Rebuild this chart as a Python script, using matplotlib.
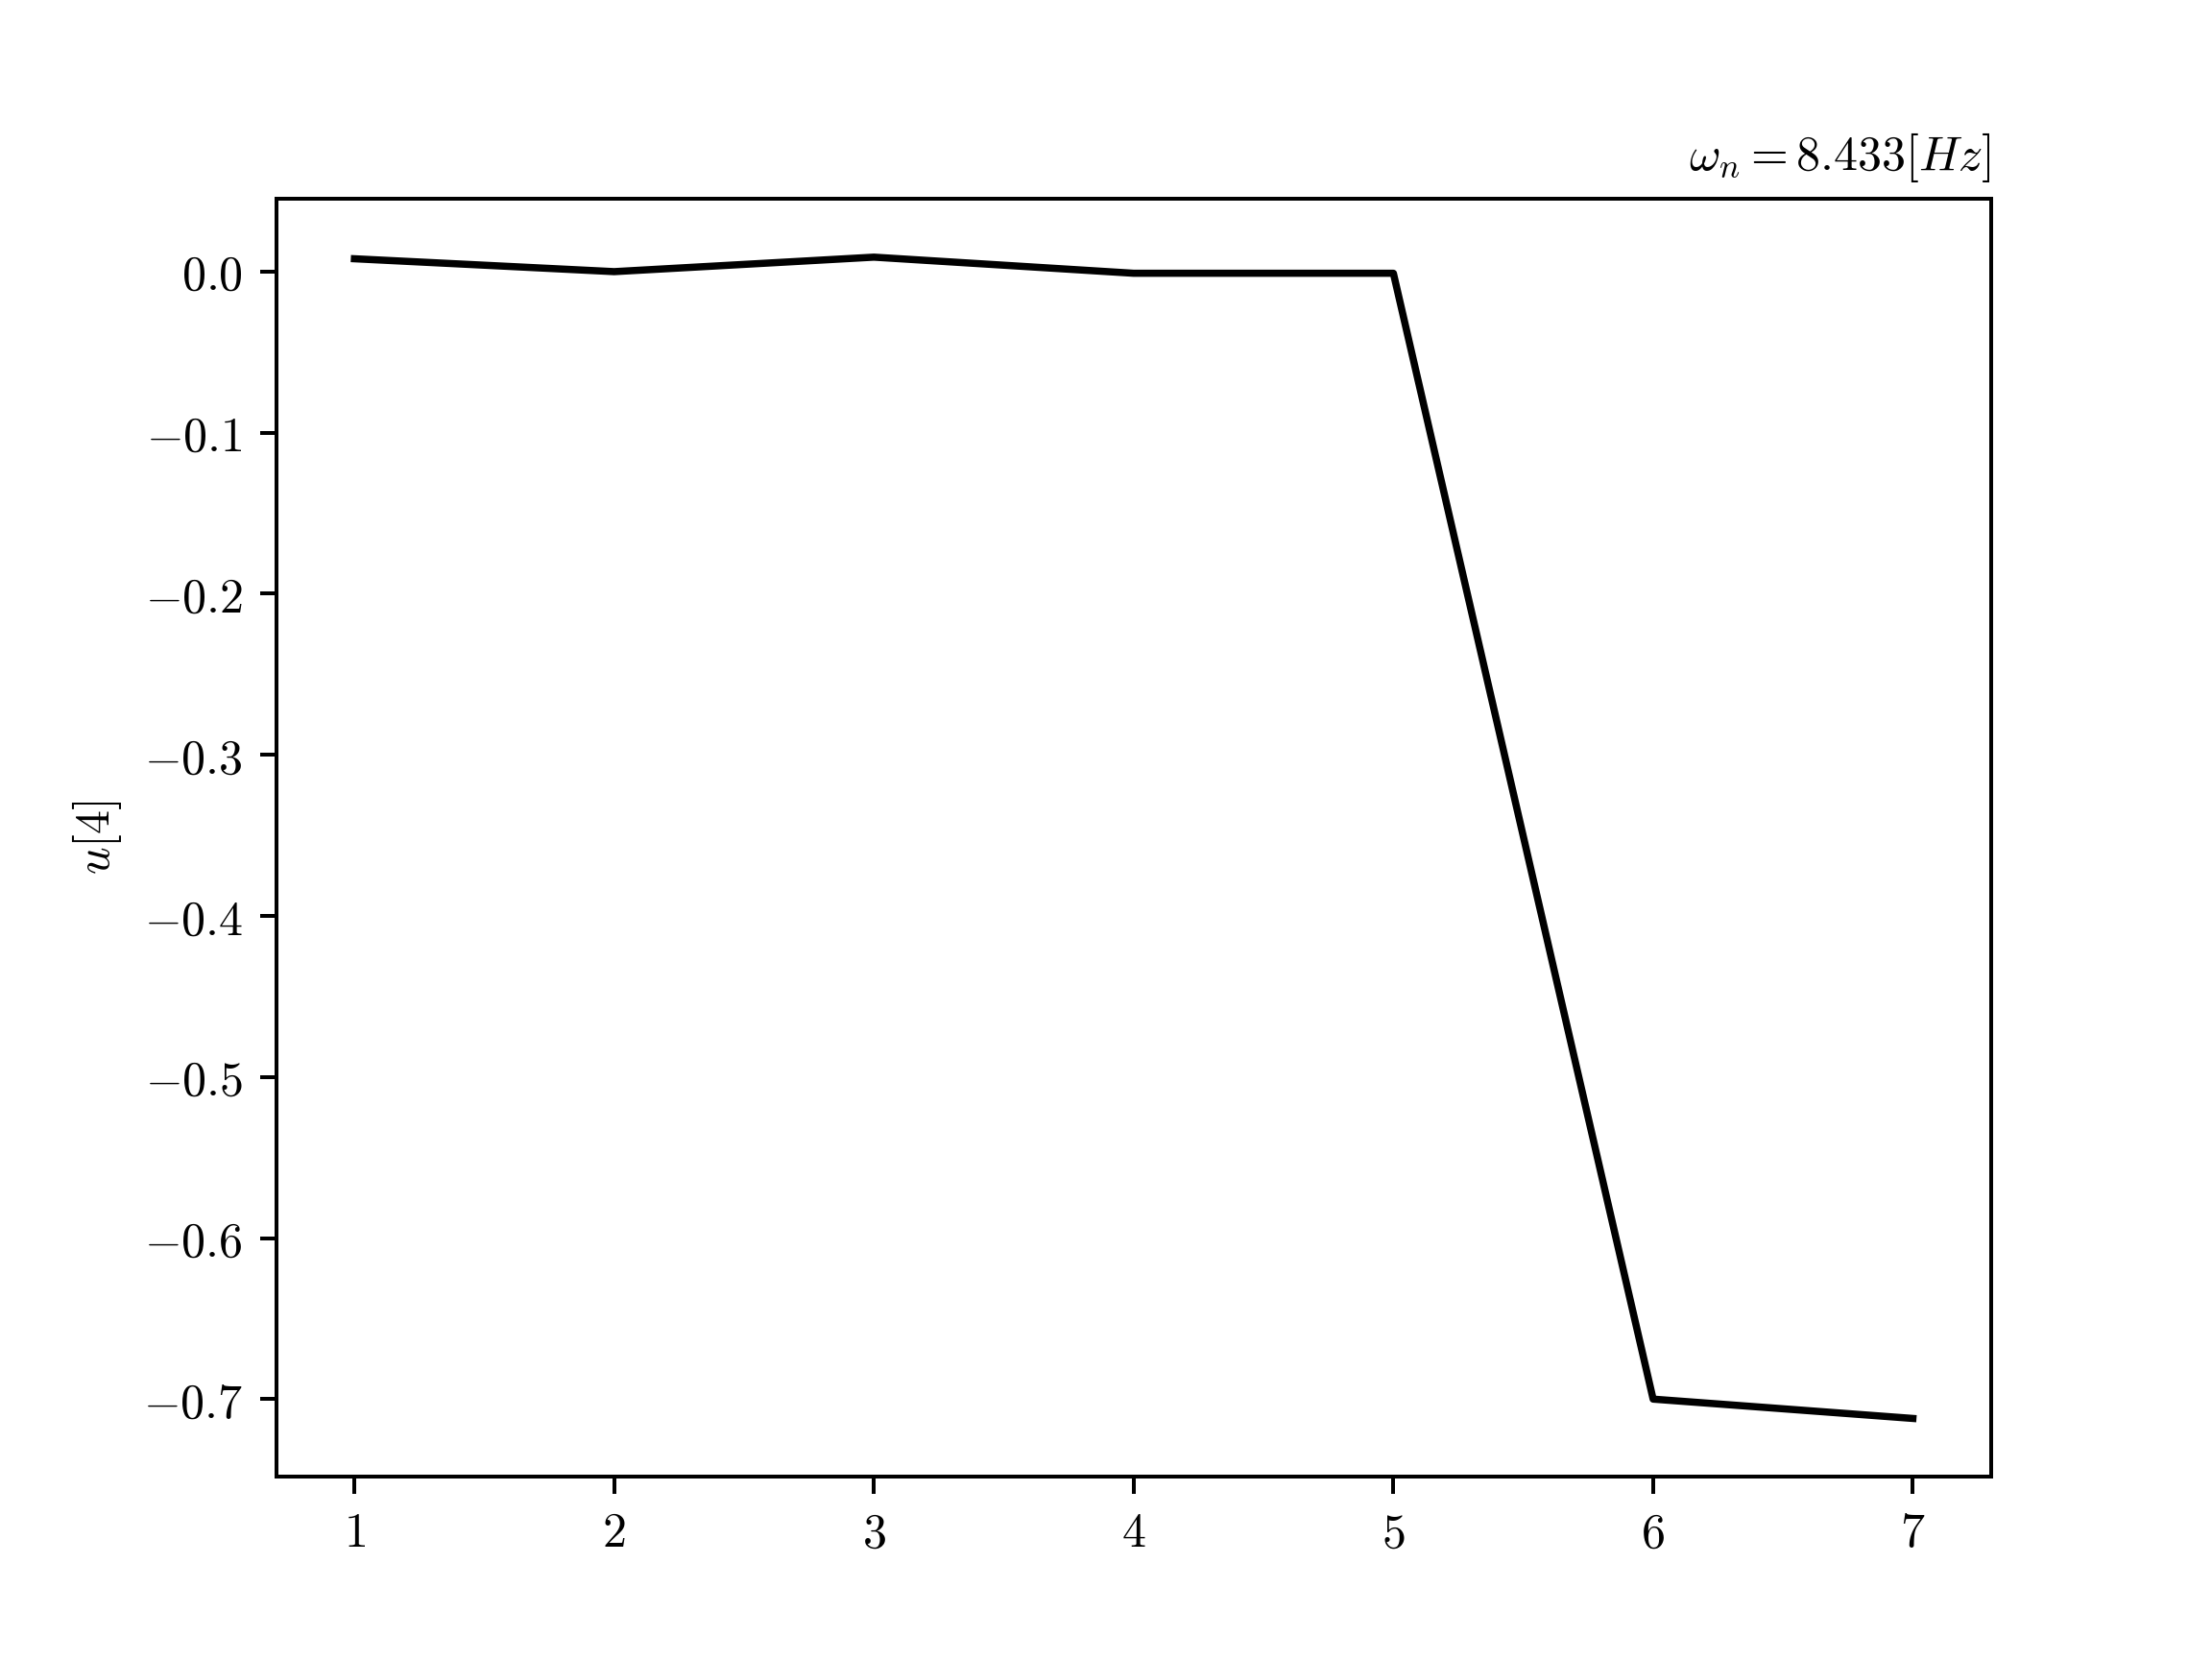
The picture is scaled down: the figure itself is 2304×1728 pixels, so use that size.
import matplotlib
matplotlib.use('Agg')
import matplotlib.pyplot as plt
from matplotlib.ticker import FuncFormatter

plt.rcParams['mathtext.fontset'] = 'cm'
plt.rcParams['font.family'] = 'serif'
plt.rcParams['font.serif'] = ['DejaVu Serif']

nodes = [1, 2, 3, 4, 5, 6, 7]
u4 = [0.008, 0.0, 0.009, -0.001, -0.001, -0.700, -0.712]

fig, ax = plt.subplots(figsize=(6.4, 4.8))
ax.plot(nodes, u4, color='black', linewidth=1.5)
ax.set_ylabel(r'$u[4]$')
ax.set_title(r'$\omega_n = 8.433 [Hz]$', loc='right', fontsize=10)
ax.xaxis.set_major_formatter(FuncFormatter(lambda v, p: r'$%d$' % v))
ax.yaxis.set_major_formatter(FuncFormatter(lambda v, p: r'$%.1f$' % v))
fig.savefig('out.png', dpi=360)
